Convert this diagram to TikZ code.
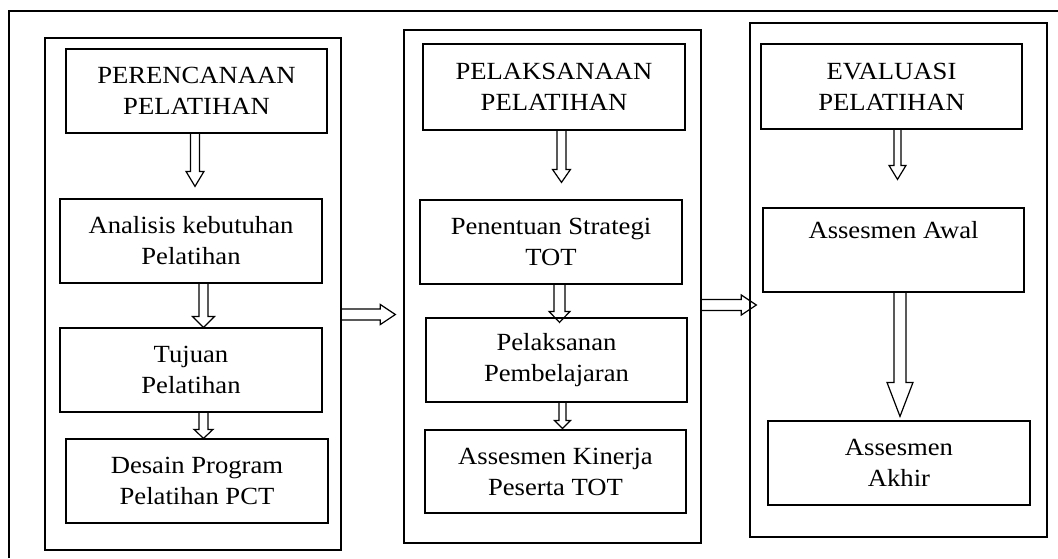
\documentclass[tikz,border=0pt]{standalone}
\usepackage{fontspec}
\setmainfont{Liberation Serif}[FakeStretch=1.08]
\usetikzlibrary{calc}
% vertical block arrow: #1 from node, #2 to node, #3 x (px), #4 gap above target (px), #5 shaft half width, #6 head half width, #7 head length
\newcommand\vblock[7]{%
 \draw[blk] let \p1=(#1.south), \p2=(#2.north) in
  ({(#3-#5)*0.75pt},\y1) -- ({(#3-#5)*0.75pt},{\y2+(#4+#7)*0.75pt})
  -- ({(#3-#6)*0.75pt},{\y2+(#4+#7)*0.75pt}) -- ({#3*0.75pt},{\y2+#4*0.75pt})
  -- ({(#3+#6)*0.75pt},{\y2+(#4+#7)*0.75pt}) -- ({(#3+#5)*0.75pt},{\y2+(#4+#7)*0.75pt})
  -- ({(#3+#5)*0.75pt},\y1);}
% horizontal block arrow
\newcommand\hblock[7]{%
 \draw[blk] let \p1=(#1.east), \p2=(#2.west) in
  (\x1,{-(#3-#5)*0.75pt}) -- ({\x2-(#4+#7)*0.75pt},{-(#3-#5)*0.75pt})
  -- ({\x2-(#4+#7)*0.75pt},{-(#3-#6)*0.75pt}) -- ({\x2-#4*0.75pt},{-#3*0.75pt})
  -- ({\x2-(#4+#7)*0.75pt},{-(#3+#6)*0.75pt}) -- ({\x2-(#4+#7)*0.75pt},{-(#3+#5)*0.75pt})
  -- (\x1,{-(#3+#5)*0.75pt});}
\begin{document}
\begin{tikzpicture}[x=0.75pt,y=-0.75pt,
  sz/.style 2 args={minimum width=#1*0.75pt,minimum height=#2*0.75pt},
  box/.style={draw,line width=0.9pt,inner sep=0pt,align=center,
    font=\fontsize{18.5}{23.25}\selectfont},
  panel/.style={draw,line width=1pt,inner sep=0pt},
  blk/.style={draw,line width=0.9pt,line join=miter}]
\useasboundingbox (0,0) rectangle (1058,558);
% outer frame (cut off at right and bottom)
\draw[line width=0.8pt] (9,558) -- (9,11) -- (1058,11);

% panels
\node[panel,sz={296}{512}] (pl) at (193,294) {};
\node[panel,sz={297}{513}] (pm) at (552.5,286.5) {};
\node[panel,sz={297}{514}] (pr) at (898.5,280) {};

% left column
\node[box,sz={261}{84}] (b1) at (196.5,91) {PERENCANAAN\\PELATIHAN};
\node[box,sz={262}{84}] (b2) at (191,241) {Analisis kebutuhan\\Pelatihan};
\node[box,sz={262}{84}] (b3) at (191,370) {Tujuan\\Pelatihan};
\node[box,sz={262}{84}] (b4) at (197,481) {Desain Program\\Pelatihan PCT};

% middle column
\node[box,sz={262}{86}] (m1) at (554,87) {PELAKSANAAN\\PELATIHAN};
\node[box,sz={262}{84}] (m2) at (551,242) {Penentuan Strategi\\TOT};
\node[box,sz={261}{84}] (m3) at (556.5,360) {Pelaksanan\\Pembelajaran};
\node[box,sz={261}{83}] (m4) at (555.5,471.5) {Assesmen Kinerja\\Peserta TOT};

% right column
\node[box,sz={261}{85}] (e1) at (891.5,86.5) {EVALUASI\\PELATIHAN};
\node[box,sz={261}{84}] (e2) at (893.5,250) {Assesmen Awal\\\strut};
\node[box,sz={262}{84}] (e3) at (899,463) {Assesmen\\Akhir};

% vertical block arrows
\vblock{b1}{b2}{195}{12}{4.5}{9}{15}
\vblock{b2}{b3}{203.5}{0}{4.5}{11}{11}
\vblock{b3}{b4}{203.5}{0}{4.5}{9.5}{9}
\vblock{m1}{m2}{561.5}{17}{4.5}{9}{13}
\vblock{m2}{m3}{559.5}{-5}{5.5}{10.5}{11}
\vblock{m3}{m4}{562.5}{1}{3.5}{8}{8}
\vblock{e1}{e2}{897.5}{28}{3.5}{8.5}{14}
\vblock{e2}{e3}{900}{4}{6}{13}{34}

% horizontal block arrows
\hblock{pl}{pm}{314.5}{8}{5.5}{10}{15}
\hblock{pm}{pr}{305}{-7}{5.5}{10}{15}
\end{tikzpicture}
\end{document}
